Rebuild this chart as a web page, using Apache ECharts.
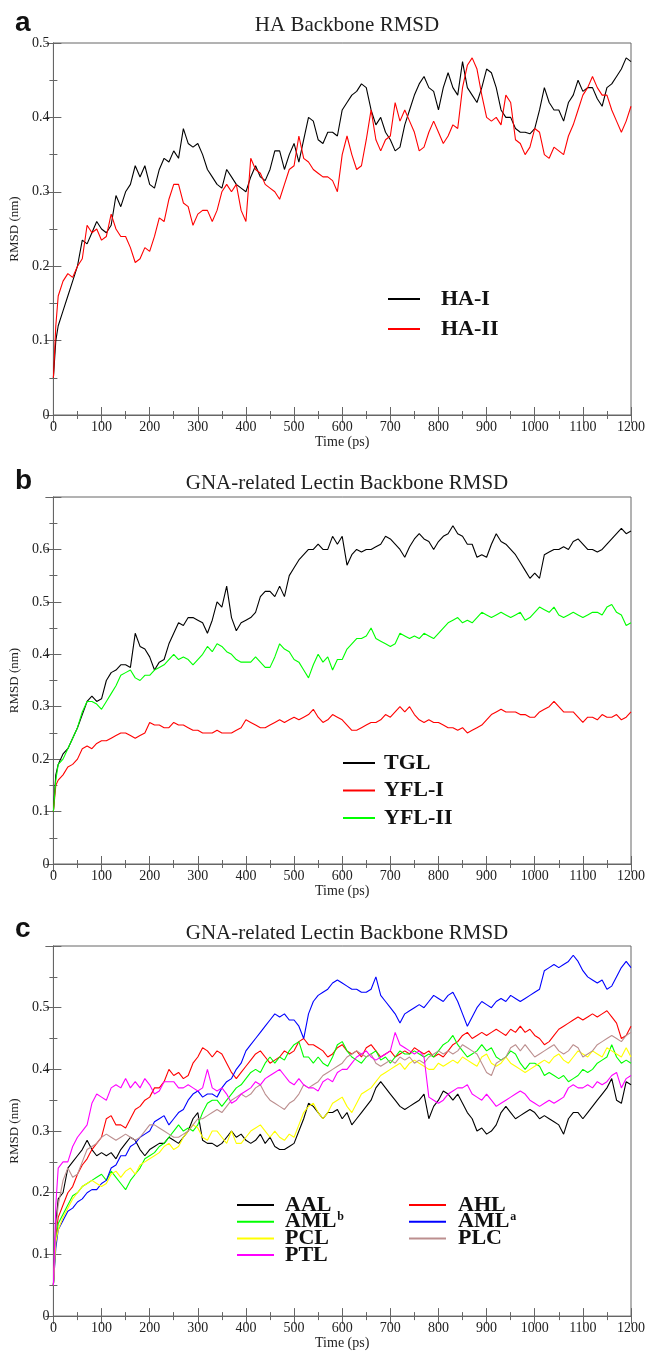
<!DOCTYPE html>
<html>
<head>
<meta charset="utf-8">
<title>Backbone RMSD</title>
<script src="https://cdn.jsdelivr.net/npm/echarts@6/dist/echarts.min.js"></script>
<style>
  html, body { margin: 0; padding: 0; background: #fff; }
  #main { width: 648px; height: 1351px; }
</style>
</head>
<body>
<div id="main"></div>
<script>
// time points (ps): 0, 5, then every 10 ps up to 1200
var time = [0, 5];
for (var t = 10; t <= 1200; t += 10) time.push(t);

// ---- panel a: HA backbone RMSD (nm)
var haI = [
  0.05,0.1,0.12,0.14,0.16,0.18,0.2,0.235,0.23,0.245,0.26,
  0.25,0.245,0.255,0.295,0.28,0.3,0.31,0.335,0.32,0.335,
  0.31,0.305,0.33,0.345,0.34,0.355,0.345,0.385,0.365,0.36,
  0.365,0.35,0.33,0.32,0.31,0.305,0.33,0.32,0.31,0.305,
  0.3,0.32,0.335,0.32,0.315,0.33,0.355,0.355,0.33,0.35,
  0.365,0.34,0.37,0.4,0.395,0.37,0.365,0.38,0.38,0.375,
  0.41,0.42,0.43,0.435,0.445,0.44,0.41,0.39,0.4,0.38,
  0.37,0.355,0.36,0.39,0.41,0.43,0.445,0.455,0.44,0.435,
  0.41,0.44,0.46,0.44,0.43,0.475,0.44,0.43,0.42,0.44,
  0.465,0.46,0.44,0.41,0.4,0.4,0.385,0.38,0.38,0.378,
  0.385,0.41,0.44,0.42,0.41,0.41,0.395,0.42,0.43,0.45,
  0.435,0.44,0.44,0.425,0.415,0.44,0.445,0.455,0.465,0.48,
  0.475
];
var haII = [
  0.05,0.12,0.16,0.18,0.19,0.185,0.2,0.21,0.255,0.245,0.25,
  0.235,0.24,0.27,0.25,0.24,0.24,0.225,0.205,0.21,0.225,
  0.22,0.24,0.265,0.26,0.29,0.31,0.31,0.285,0.28,0.255,
  0.27,0.275,0.275,0.26,0.275,0.3,0.31,0.3,0.31,0.275,
  0.26,0.345,0.33,0.325,0.31,0.305,0.3,0.29,0.31,0.33,
  0.335,0.375,0.345,0.34,0.33,0.325,0.32,0.32,0.315,0.3,
  0.35,0.375,0.35,0.33,0.335,0.37,0.41,0.37,0.355,0.37,
  0.375,0.42,0.395,0.41,0.395,0.38,0.355,0.36,0.38,0.395,
  0.38,0.365,0.375,0.39,0.385,0.44,0.47,0.48,0.465,0.43,
  0.4,0.395,0.4,0.39,0.43,0.42,0.37,0.365,0.35,0.36,
  0.385,0.38,0.35,0.345,0.36,0.355,0.35,0.375,0.39,0.41,
  0.43,0.44,0.455,0.44,0.43,0.43,0.41,0.395,0.38,0.395,
  0.415
];

// ---- panel b: GNA-related lectins
var tgl = [
  0.1,0.17,0.19,0.21,0.22,0.24,0.26,0.285,0.31,0.32,0.31,
  0.315,0.35,0.365,0.37,0.38,0.38,0.375,0.44,0.415,0.41,
  0.395,0.37,0.385,0.39,0.42,0.44,0.46,0.455,0.47,0.47,
  0.465,0.46,0.44,0.465,0.5,0.49,0.53,0.47,0.445,0.46,
  0.465,0.47,0.48,0.51,0.52,0.52,0.51,0.53,0.51,0.55,
  0.565,0.58,0.59,0.6,0.6,0.61,0.6,0.6,0.625,0.61,
  0.625,0.57,0.59,0.6,0.595,0.6,0.6,0.605,0.61,0.625,
  0.62,0.61,0.6,0.585,0.605,0.62,0.63,0.62,0.615,0.6,
  0.615,0.625,0.63,0.645,0.63,0.625,0.61,0.61,0.585,0.59,
  0.585,0.61,0.63,0.615,0.61,0.6,0.59,0.575,0.56,0.545,
  0.555,0.545,0.59,0.595,0.6,0.6,0.605,0.6,0.615,0.62,
  0.61,0.6,0.6,0.595,0.6,0.61,0.62,0.63,0.64,0.63,
  0.635
];
var yflI = [
  0.1,0.15,0.16,0.17,0.185,0.19,0.2,0.22,0.225,0.22,0.23,
  0.235,0.235,0.24,0.245,0.25,0.25,0.245,0.24,0.245,0.25,
  0.27,0.265,0.265,0.26,0.26,0.27,0.265,0.265,0.26,0.255,
  0.255,0.25,0.25,0.25,0.255,0.25,0.25,0.25,0.255,0.26,
  0.275,0.27,0.265,0.26,0.26,0.265,0.27,0.275,0.27,0.275,
  0.28,0.275,0.28,0.285,0.295,0.28,0.27,0.275,0.285,0.28,
  0.275,0.265,0.255,0.255,0.26,0.265,0.27,0.27,0.275,0.285,
  0.28,0.29,0.3,0.29,0.3,0.285,0.275,0.27,0.275,0.27,
  0.27,0.265,0.26,0.26,0.255,0.26,0.25,0.255,0.26,0.265,
  0.275,0.285,0.29,0.295,0.29,0.29,0.29,0.285,0.285,0.28,
  0.28,0.29,0.295,0.3,0.31,0.3,0.29,0.29,0.29,0.28,
  0.27,0.28,0.28,0.275,0.285,0.28,0.28,0.285,0.275,0.28,
  0.29
];
var yflII = [
  0.1,0.16,0.19,0.2,0.22,0.24,0.26,0.29,0.31,0.31,0.305,
  0.295,0.31,0.325,0.34,0.36,0.365,0.37,0.355,0.35,0.36,
  0.36,0.37,0.375,0.38,0.39,0.4,0.39,0.395,0.39,0.38,
  0.39,0.4,0.415,0.405,0.42,0.415,0.405,0.4,0.39,0.385,
  0.385,0.385,0.395,0.385,0.375,0.375,0.395,0.42,0.41,0.405,
  0.39,0.385,0.37,0.355,0.38,0.4,0.385,0.395,0.37,0.39,
  0.39,0.41,0.42,0.43,0.43,0.435,0.45,0.43,0.425,0.42,
  0.415,0.42,0.44,0.435,0.43,0.435,0.43,0.44,0.435,0.43,
  0.44,0.45,0.46,0.465,0.47,0.46,0.465,0.46,0.47,0.48,
  0.475,0.47,0.475,0.48,0.475,0.47,0.475,0.48,0.465,0.47,
  0.48,0.49,0.485,0.48,0.49,0.475,0.47,0.475,0.48,0.475,
  0.47,0.475,0.48,0.48,0.475,0.49,0.495,0.48,0.475,0.455,
  0.46
];

// ---- panel c: more GNA-related lectins
var aal = [
  0.05,0.15,0.19,0.2,0.24,0.25,0.26,0.27,0.285,0.27,0.26,
  0.265,0.26,0.265,0.255,0.27,0.28,0.29,0.285,0.27,0.26,
  0.27,0.275,0.28,0.28,0.29,0.285,0.28,0.29,0.3,0.32,
  0.33,0.285,0.28,0.28,0.275,0.28,0.29,0.3,0.29,0.295,
  0.285,0.28,0.285,0.295,0.28,0.29,0.275,0.27,0.27,0.275,
  0.28,0.3,0.32,0.345,0.34,0.33,0.32,0.33,0.33,0.335,
  0.32,0.33,0.31,0.32,0.33,0.34,0.35,0.37,0.38,0.37,
  0.36,0.35,0.34,0.335,0.34,0.345,0.35,0.36,0.32,0.34,
  0.35,0.365,0.36,0.35,0.36,0.345,0.33,0.32,0.3,0.305,
  0.295,0.3,0.31,0.33,0.34,0.33,0.32,0.325,0.33,0.335,
  0.33,0.32,0.325,0.32,0.315,0.31,0.295,0.32,0.33,0.33,
  0.32,0.33,0.34,0.35,0.36,0.37,0.385,0.35,0.345,0.38,
  0.375
];
var ahl = [
  0.05,0.13,0.16,0.18,0.2,0.21,0.23,0.245,0.255,0.27,0.28,
  0.29,0.32,0.325,0.31,0.31,0.305,0.32,0.335,0.34,0.35,
  0.355,0.37,0.37,0.38,0.4,0.39,0.395,0.385,0.39,0.41,
  0.42,0.435,0.43,0.42,0.43,0.425,0.41,0.395,0.385,0.395,
  0.405,0.415,0.425,0.43,0.42,0.41,0.415,0.42,0.43,0.425,
  0.43,0.445,0.45,0.44,0.44,0.435,0.43,0.42,0.425,0.435,
  0.44,0.43,0.425,0.43,0.42,0.435,0.44,0.43,0.42,0.425,
  0.43,0.42,0.425,0.43,0.425,0.435,0.43,0.425,0.43,0.42,
  0.425,0.42,0.43,0.44,0.445,0.455,0.46,0.45,0.455,0.46,
  0.455,0.46,0.465,0.46,0.455,0.465,0.46,0.47,0.46,0.465,
  0.455,0.45,0.44,0.445,0.455,0.465,0.47,0.475,0.48,0.485,
  0.48,0.485,0.49,0.485,0.49,0.495,0.485,0.475,0.45,0.455,
  0.47
];
var amlB = [
  0.05,0.12,0.15,0.165,0.18,0.195,0.2,0.21,0.215,0.22,0.225,
  0.23,0.22,0.235,0.225,0.215,0.205,0.22,0.23,0.24,0.255,
  0.26,0.265,0.275,0.28,0.29,0.3,0.31,0.3,0.305,0.3,
  0.31,0.33,0.345,0.35,0.35,0.34,0.35,0.36,0.37,0.375,
  0.385,0.395,0.4,0.395,0.41,0.42,0.41,0.42,0.415,0.43,
  0.44,0.445,0.42,0.42,0.41,0.42,0.41,0.405,0.42,0.44,
  0.445,0.43,0.42,0.415,0.41,0.42,0.425,0.43,0.415,0.42,
  0.41,0.42,0.43,0.425,0.425,0.43,0.425,0.42,0.425,0.42,
  0.43,0.44,0.445,0.455,0.44,0.43,0.42,0.425,0.43,0.44,
  0.43,0.435,0.42,0.415,0.42,0.43,0.425,0.41,0.4,0.41,
  0.41,0.405,0.39,0.395,0.39,0.385,0.39,0.38,0.385,0.39,
  0.4,0.395,0.4,0.41,0.415,0.42,0.44,0.42,0.41,0.415,
  0.41
];
var amlA = [
  0.05,0.11,0.14,0.155,0.17,0.175,0.185,0.19,0.2,0.205,0.205,
  0.215,0.22,0.24,0.245,0.26,0.26,0.275,0.28,0.29,0.295,
  0.3,0.315,0.32,0.325,0.31,0.32,0.33,0.335,0.35,0.36,
  0.365,0.355,0.36,0.36,0.355,0.37,0.38,0.385,0.4,0.41,
  0.43,0.44,0.45,0.46,0.47,0.48,0.49,0.485,0.49,0.48,
  0.48,0.47,0.45,0.49,0.51,0.52,0.525,0.53,0.54,0.545,
  0.54,0.535,0.53,0.53,0.525,0.525,0.53,0.55,0.52,0.51,
  0.5,0.49,0.475,0.49,0.495,0.5,0.505,0.5,0.51,0.52,
  0.515,0.51,0.52,0.525,0.51,0.49,0.47,0.485,0.5,0.51,
  0.505,0.5,0.51,0.515,0.51,0.52,0.515,0.51,0.515,0.52,
  0.525,0.53,0.56,0.565,0.57,0.565,0.57,0.575,0.585,0.575,
  0.56,0.55,0.545,0.54,0.545,0.53,0.535,0.55,0.565,0.575,
  0.565
];
var pcl = [
  0.05,0.12,0.14,0.16,0.175,0.19,0.2,0.21,0.215,0.22,0.215,
  0.21,0.215,0.23,0.235,0.225,0.235,0.24,0.23,0.245,0.25,
  0.255,0.26,0.265,0.275,0.28,0.27,0.275,0.29,0.3,0.31,
  0.305,0.29,0.285,0.3,0.3,0.29,0.28,0.3,0.28,0.28,
  0.29,0.3,0.305,0.31,0.3,0.29,0.3,0.29,0.285,0.295,
  0.29,0.31,0.33,0.34,0.345,0.33,0.32,0.33,0.345,0.35,
  0.355,0.34,0.33,0.345,0.36,0.365,0.37,0.38,0.39,0.395,
  0.4,0.405,0.41,0.4,0.41,0.415,0.41,0.405,0.4,0.4,
  0.41,0.405,0.41,0.415,0.41,0.42,0.415,0.41,0.405,0.42,
  0.425,0.41,0.405,0.41,0.42,0.41,0.405,0.4,0.395,0.4,
  0.405,0.41,0.415,0.41,0.42,0.425,0.415,0.41,0.42,0.43,
  0.425,0.42,0.43,0.425,0.42,0.435,0.43,0.425,0.42,0.435,
  0.42
];
var plc = [
  0.05,0.14,0.18,0.22,0.24,0.225,0.23,0.25,0.27,0.275,0.28,
  0.29,0.295,0.29,0.285,0.29,0.295,0.29,0.285,0.29,0.3,
  0.31,0.31,0.305,0.3,0.295,0.29,0.29,0.295,0.3,0.31,
  0.32,0.32,0.325,0.33,0.335,0.33,0.34,0.35,0.355,0.36,
  0.355,0.36,0.37,0.375,0.36,0.35,0.345,0.34,0.335,0.345,
  0.35,0.36,0.375,0.37,0.375,0.38,0.39,0.395,0.4,0.405,
  0.41,0.42,0.425,0.43,0.425,0.42,0.425,0.41,0.405,0.41,
  0.415,0.41,0.42,0.415,0.42,0.41,0.415,0.41,0.42,0.425,
  0.43,0.425,0.43,0.425,0.43,0.44,0.435,0.43,0.425,0.41,
  0.395,0.39,0.41,0.415,0.42,0.435,0.44,0.43,0.44,0.43,
  0.42,0.425,0.43,0.435,0.44,0.43,0.425,0.43,0.44,0.435,
  0.42,0.425,0.43,0.44,0.445,0.45,0.455,0.45,0.445,0.455,
  0.46
];
var ptl = [
  0.05,0.18,0.24,0.25,0.25,0.275,0.29,0.3,0.31,0.345,0.36,
  0.355,0.35,0.37,0.375,0.37,0.385,0.37,0.38,0.37,0.385,
  0.375,0.36,0.365,0.38,0.38,0.38,0.37,0.37,0.375,0.37,
  0.365,0.37,0.4,0.37,0.365,0.37,0.36,0.345,0.35,0.36,
  0.365,0.37,0.38,0.375,0.385,0.39,0.395,0.4,0.39,0.38,
  0.375,0.385,0.375,0.37,0.37,0.365,0.38,0.385,0.38,0.395,
  0.4,0.4,0.41,0.42,0.425,0.43,0.42,0.415,0.42,0.425,
  0.43,0.46,0.44,0.435,0.43,0.425,0.43,0.42,0.355,0.35,
  0.345,0.35,0.36,0.365,0.37,0.37,0.375,0.36,0.355,0.35,
  0.36,0.35,0.34,0.345,0.35,0.355,0.36,0.365,0.36,0.35,
  0.345,0.34,0.345,0.35,0.345,0.35,0.355,0.37,0.375,0.37,
  0.37,0.375,0.37,0.38,0.375,0.38,0.39,0.395,0.37,0.385,
  0.39
];

var SERIF = '"Liberation Serif", "Times New Roman", serif';
var AXIS_COLOR = '#666';

function pairs(values) {
  return time.map(function (t, i) { return [t, values[i]]; });
}

// bottom/left axes carry labels, top/right ones only mirror the ticks
function xAxes(gridIndex) {
  var common = {
    gridIndex: gridIndex, type: 'value', min: 0, max: 1200, interval: 100,
    splitLine: { show: false },
    axisLine: { lineStyle: { color: AXIS_COLOR, width: 1 } },
    axisTick: { inside: true, length: 8, lineStyle: { color: AXIS_COLOR } },
    minorTick: { show: true, splitNumber: 2, length: 4, lineStyle: { color: AXIS_COLOR } }
  };
  var bottom = Object.assign({}, common, {
    position: 'bottom',
    name: 'Time (ps)', nameLocation: 'middle', nameGap: 19,
    nameTextStyle: { fontFamily: SERIF, fontSize: 14, color: '#222' },
    axisLabel: { fontFamily: SERIF, fontSize: 14, color: '#222', margin: 5,
      formatter: function (v) { return String(v); } }
  });
  var top = Object.assign({}, common, { position: 'top', axisLabel: { show: false } });
  return [bottom, top];
}

function yAxes(gridIndex, max, showMax) {
  var common = {
    gridIndex: gridIndex, type: 'value', min: 0, max: max, interval: 0.1,
    splitLine: { show: false },
    axisLine: { show: true, lineStyle: { color: AXIS_COLOR, width: 1 } },
    axisTick: { show: true, inside: true, length: 8, lineStyle: { color: AXIS_COLOR } },
    minorTick: { show: true, splitNumber: 2, length: 4, lineStyle: { color: AXIS_COLOR } }
  };
  var left = Object.assign({}, common, {
    position: 'left',
    name: 'RMSD (nm)', nameLocation: 'middle', nameGap: 30,
    nameTextStyle: { fontFamily: SERIF, fontSize: 13, color: '#222' },
    axisLabel: { fontFamily: SERIF, fontSize: 14, color: '#222', margin: 4, showMaxLabel: showMax }
  });
  var right = Object.assign({}, common, { position: 'right', axisLabel: { show: false } });
  return [left, right];
}

function line(name, values, color, panel) {
  return {
    name: name, type: 'line', xAxisIndex: panel * 2, yAxisIndex: panel * 2,
    data: pairs(values), showSymbol: false, symbol: 'none',
    color: color, lineStyle: { width: 1.1, color: color }, animation: false
  };
}

function legend(left, top, names, opts) {
  return {
    orient: 'vertical', left: left, top: top, data: names, selectedMode: false,
    icon: 'rect', itemWidth: opts.w, itemHeight: 2, itemGap: opts.gap,
    formatter: function (n) {
      if (n === 'AMLb') return 'AML{s|b}';
      if (n === 'AMLa') return 'AML{s|a}';
      return n;
    },
    textStyle: {
      fontFamily: SERIF, fontSize: 22, fontWeight: 'bold', color: '#111',
      lineHeight: 22, padding: [0, 0, 0, opts.pad],
      rich: { s: { fontFamily: SERIF, fontSize: 12, fontWeight: 'bold', color: '#111', lineHeight: 12, padding: [0, 0, 10, 1] } }
    }
  };
}

function panelTitle(text, top) {
  return { text: text, left: 342, top: top, textAlign: 'center',
    textStyle: { fontFamily: SERIF, fontSize: 21, fontWeight: 'normal', color: '#222' } };
}
function panelLetter(text, top) {
  return { text: text, left: 10, top: top,
    textStyle: { fontFamily: '"Liberation Sans", Arial, sans-serif', fontSize: 28, fontWeight: 'bold', color: '#111' } };
}

var chart = echarts.init(document.getElementById('main'), null, { renderer: 'canvas' });

var option = {
  backgroundColor: '#fff',
  animation: false,
  title: [
    panelTitle('HA Backbone RMSD', 10),
    panelTitle('GNA-related Lectin Backbone RMSD', 468),
    panelTitle('GNA-related Lectin Backbone RMSD', 918),
    panelLetter('a', 4),
    panelLetter('b', 462),
    panelLetter('c', 910)
  ],
  grid: [
    { left: 52, right: 16, top: 43, height: 372, show: true, borderColor: AXIS_COLOR, borderWidth: 1 },
    { left: 52, right: 16, top: 497, height: 367, show: true, borderColor: AXIS_COLOR, borderWidth: 1 },
    { left: 52, right: 16, top: 946, height: 372, show: true, borderColor: AXIS_COLOR, borderWidth: 1 }
  ],
  xAxis: [].concat(xAxes(0), xAxes(1), xAxes(2)),
  yAxis: [].concat(yAxes(0, 0.5, true), yAxes(1, 0.7, false), yAxes(2, 0.6, false)),
  legend: [
    legend(383, 283, ['HA-I', 'HA-II'], { w: 32, gap: 8, pad: 16 }),
    legend(338, 747, ['TGL', 'YFL-I', 'YFL-II'], { w: 32, gap: 5.5, pad: 4 }),
    legend(232, 1189, ['AAL', 'AMLb', 'PCL', 'PTL'], { w: 37, gap: -5.3, pad: 6 }),
    legend(404, 1189, ['AHL', 'AMLa', 'PLC'], { w: 37, gap: -5.3, pad: 7 })
  ],
  series: [
    line('HA-I', haI, '#000000', 0),
    line('HA-II', haII, '#ff0000', 0),
    line('TGL', tgl, '#000000', 1),
    line('YFL-I', yflI, '#ff0000', 1),
    line('YFL-II', yflII, '#00ff00', 1),
    line('AAL', aal, '#000000', 2),
    line('AHL', ahl, '#ff0000', 2),
    line('AMLb', amlB, '#00ff00', 2),
    line('AMLa', amlA, '#0000ff', 2),
    line('PCL', pcl, '#ffff00', 2),
    line('PLC', plc, '#bc8f8f', 2),
    line('PTL', ptl, '#ff00ff', 2)
  ]
};

chart.setOption(option);
</script>
</body>
</html>
